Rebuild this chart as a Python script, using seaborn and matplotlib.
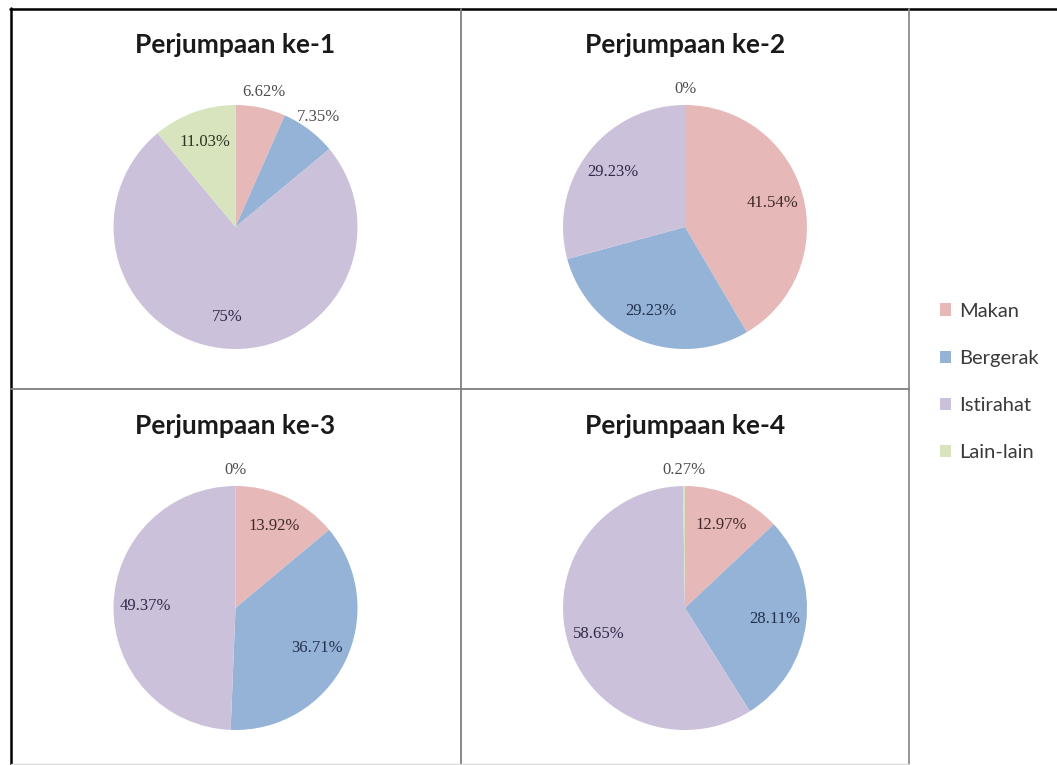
import numpy as np
import matplotlib
matplotlib.use('Agg')
import matplotlib.pyplot as plt
from matplotlib.lines import Line2D
from matplotlib.patches import Patch
import seaborn as sns

# data
kategori = ['Makan', 'Bergerak', 'Istirahat', 'Lain-lain']
judul = ['Perjumpaan ke-1', 'Perjumpaan ke-2', 'Perjumpaan ke-3', 'Perjumpaan ke-4']
ke1 = [6.62, 7.35, 75, 11.03]
ke2 = [41.54, 29.23, 29.23, 0]
ke3 = [13.92, 36.71, 49.37, 0]
ke4 = [12.97, 28.11, 58.65, 0.27]
semua = [ke1, ke2, ke3, ke4]

sns.set_theme(style='white')
plt.rcParams['font.family'] = ['Lato', 'DejaVu Sans']
warna = sns.color_palette(['#E6B9B8', '#95B3D7', '#CCC1DA', '#D7E4BD'])
warna_teks = ['#3f2828', '#22304d', '#30284a', '#2c3522']

W, H = 1057, 765
fig = plt.figure(figsize=(W / 100, H / 100), dpi=100)
fig.patch.set_facecolor('white')


def fx(x):
    return x / W


def fy(y):
    return 1 - y / H


# kotak-kotak (x0, y0, x1, y1) dalam piksel
sel = [(10, 8, 461, 389), (461, 8, 909, 389), (10, 389, 461, 765), (461, 389, 909, 765)]
R = 122
L = 1.4

for i, (x0, y0, x1, y1) in enumerate(sel):
    cx = (x0 + x1) / 2
    cy = y0 + 219
    s = 2 * L * R
    ax = fig.add_axes([fx(cx - L * R), fy(cy + L * R), s / W, s / H])
    nilai = semua[i]
    wedges, _ = ax.pie(nilai, colors=warna, startangle=90, counterclock=False,
                       radius=1, wedgeprops=dict(linewidth=0))
    ax.set_xlim(-L, L)
    ax.set_ylim(-L, L)
    ax.set_aspect('auto')
    ax.axis('off')
    for j, (w, v) in enumerate(zip(wedges, nilai)):
        ang = np.deg2rad((w.theta1 + w.theta2) / 2)
        d = 0.74 if v >= 10 else 1.13
        warna_t = warna_teks[j] if v >= 10 else '#4d4d4d'
        ax.text(d * np.cos(ang), d * np.sin(ang), f'{v:g}%', ha='center', va='center',
                fontsize=12, color=warna_t, family=['Liberation Serif', 'DejaVu Serif'])
    fig.text(fx(cx), fy(y0 + 37), judul[i], ha='center', va='center',
             fontsize=19, fontweight='bold', color='#1a1a1a')

# garis bingkai
garis = [
    ([10, 1057], [8.5, 8.5], 'black', 1.8),
    ([10.5, 10.5], [8, 765], 'black', 1.8),
    ([461, 461], [9, 765], '#7f7f7f', 1.3),
    ([909, 909], [9, 765], '#8c8c8c', 1.3),
    ([11, 909], [389, 389], '#7f7f7f', 1.3),
    ([11, 909], [763.5, 763.5], '#d9d9d9', 1.0),
]
for xs, ys, c, lw in garis:
    fig.add_artist(Line2D([fx(x) for x in xs], [fy(y) for y in ys], color=c, lw=lw))

handles = [Patch(facecolor=c, edgecolor='none', label=k) for c, k in zip(warna, kategori)]
leg = fig.legend(handles=handles, loc='center left', bbox_to_anchor=(fx(940), fy(382)),
                 frameon=False, fontsize=14.5, handlelength=0.55, handleheight=0.55,
                 handletextpad=0.4, labelspacing=1.5, borderpad=0, borderaxespad=0)
for t in leg.get_texts():
    t.set_color('#3a3a3a')

fig.savefig('out.png', dpi=100)
